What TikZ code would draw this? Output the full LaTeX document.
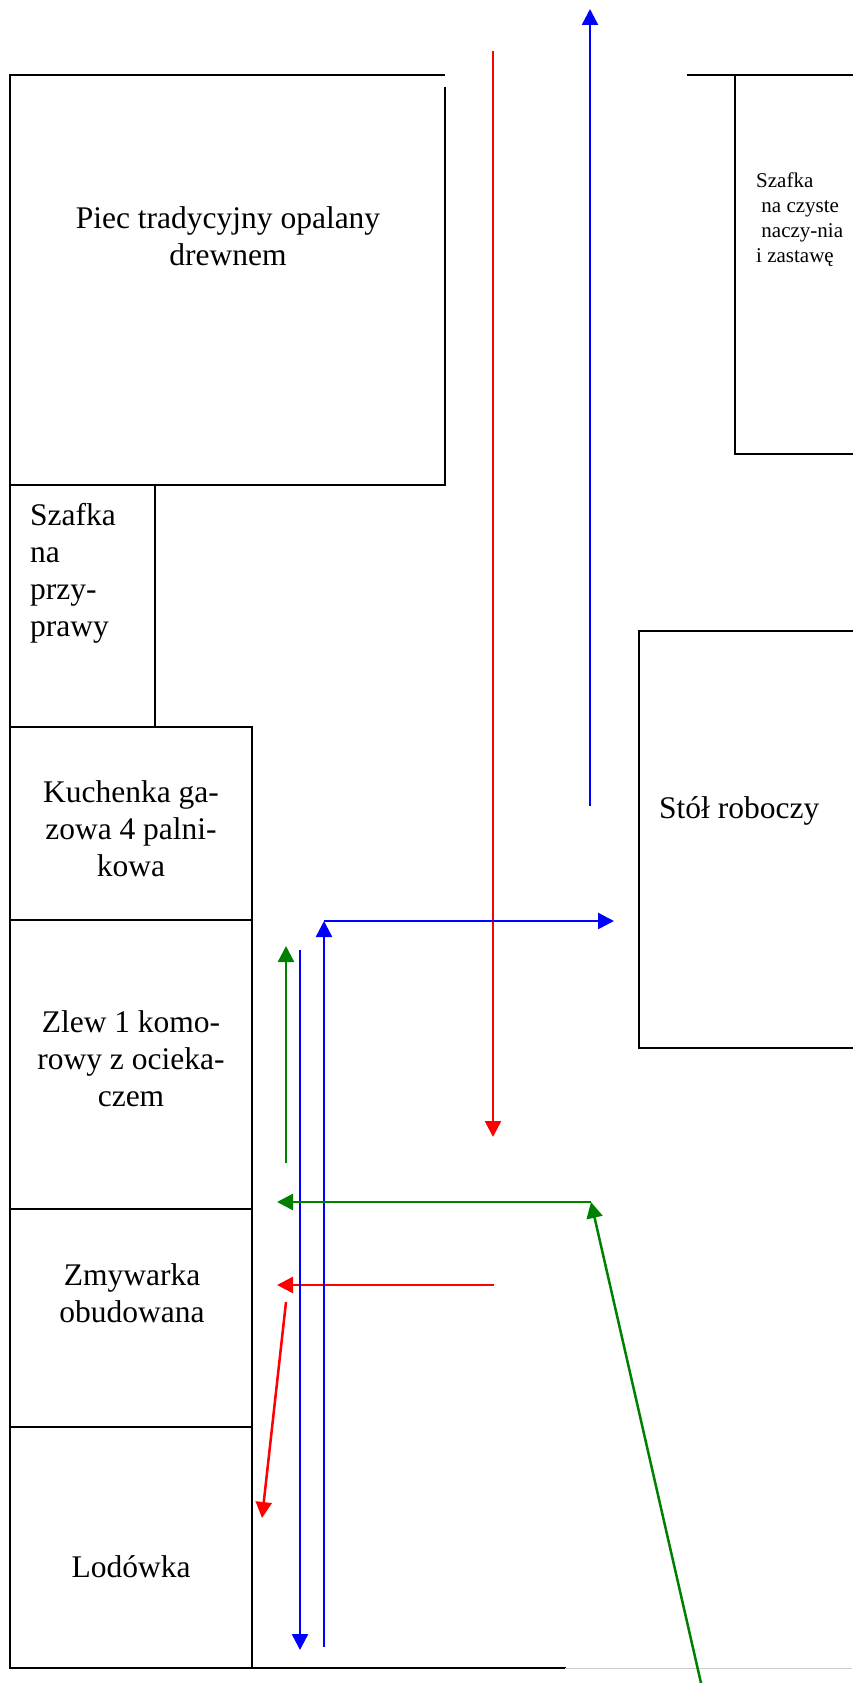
\documentclass[tikz,border=0pt]{standalone}
\usepackage{xcolor}
\definecolor{ff0000}{HTML}{FF0000}
\definecolor{0000ff}{HTML}{0000FF}
\definecolor{008000}{HTML}{008000}
\usepackage{fontspec}
\setmainfont{Liberation Serif}
\usepackage{tikz}
\usetikzlibrary{arrows.meta}

\begin{document}
\begin{tikzpicture}[x=1pt, y=-1pt, >={Triangle[length=16pt,width=16pt]},
                        wall/.style={line width=1.7pt, line cap=rect},
                        route/.style={line width=2.5pt, ->},
                        itemtext/.style={inner sep=0pt, align=center, font=\fontsize{31.5}{37}\selectfont},
                        smalltext/.style={inner sep=0pt, align=left, font=\fontsize{21}{25}\selectfont}]
                        \useasboundingbox (0,0) rectangle (852,1683);

                        \draw[wall] (444,75) -- (10,75) -- (10,1668) -- (565,1668);
                        \draw[wall] (445,88) -- (445,485) -- (10,485);
                        \draw[wall] (155,485) -- (155,727);
                        \draw[wall] (10,727) -- (252,727) -- (252,1668);
                        \draw[wall] (10,920) -- (252,920);
                        \draw[wall] (10,1209) -- (252,1209);
                        \draw[wall] (10,1427) -- (252,1427);
                        \draw[gray!40, line width=0.8pt] (565,1668) -- (852,1668);
                        \draw[wall] (688,75) -- (852,75);
                        \draw[wall] (735,75) -- (735,454) -- (852,454);
                        \draw[wall] (852,631) -- (639,631) -- (639,1048) -- (852,1048);

                        \node (piec) at (228,236) [itemtext] {Piec tradycyjny opalany\\drewnem};
                        \node (przyprawy) at (30,573) [itemtext, align=left, anchor=west] {Szafka\\na\\przy-\\prawy};
                        \node (kuchenka) at (131,829) [itemtext] {Kuchenka ga-\\zowa 4 palni-\\kowa};
                        \node (zlew) at (131,1059) [itemtext] {Zlew 1 komo-\\rowy z ocieka-\\czem};
                        \node (zmywarka) at (132,1293) [itemtext] {Zmywarka\\obudowana};
                        \node (lodowka) at (131,1577) [itemtext, anchor=base] {Lodówka};
                        \node (stol) at (659,818) [itemtext, anchor=base west] {Stół roboczy};
                        \node (naczynia) at (756,220) [smalltext, anchor=west] {Szafka\\\ na czyste\\\ naczy-nia\\i zastawę};

                        \coordinate (redTop) at (493,51);
                        \coordinate (redEnd) at (493,1137);
                        \coordinate (redStart) at (494,1285);
                        \coordinate (redWasher) at (277,1285);
                        \coordinate (redFrom) at (286,1302);
                        \coordinate (redFridge) at (262,1518);
                        \coordinate (blueBase) at (590,806);
                        \coordinate (blueExit) at (590,9);
                        \coordinate (blueStart) at (324,1647);
                        \coordinate (blueCorner) at (324,921);
                        \coordinate (blueTable) at (614,921);
                        \coordinate (blueTop) at (300,950);
                        \coordinate (blueFridge) at (300,1650);
                        \coordinate (greenLow) at (286,1163);
                        \coordinate (greenHigh) at (286,946);
                        \coordinate (greenDoor) at (701,1683);
                        \coordinate (greenCorner) at (591,1202);
                        \coordinate (greenSink) at (277,1202);

                        \draw[route, ff0000] (redTop) to (redEnd);
                        \draw[route, ff0000] (redStart) to (redWasher);
                        \draw[route, ff0000] (redFrom) to (redFridge);
                        \draw[route, 0000ff] (blueBase) to (blueExit);
                        \draw[route, 0000ff] (blueStart) to (blueCorner);
                        \draw[route, 0000ff] (blueCorner) to (blueTable);
                        \draw[route, 0000ff] (blueTop) to (blueFridge);
                        \draw[route, 008000] (greenLow) to (greenHigh);
                        \draw[route, 008000] (greenDoor) to (greenCorner);
                        \draw[route, 008000] (greenCorner) to (greenSink);
                    \end{tikzpicture}
\end{document}
